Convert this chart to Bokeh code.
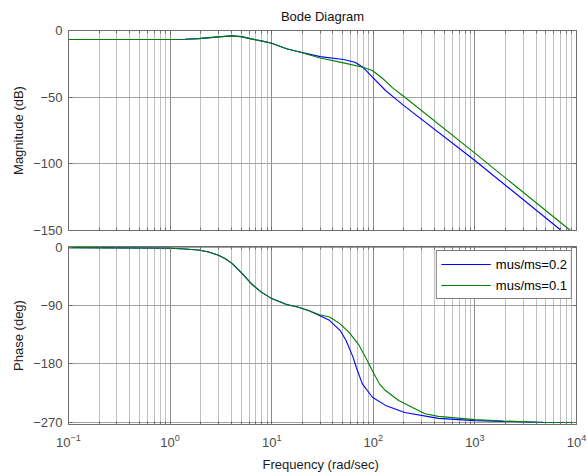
from bokeh.plotting import figure
from bokeh.models import (Range1d, FixedTicker, LinearAxis, Legend,
                          LegendItem, BasicTickFormatter)
from bokeh.layouts import column
from bokeh.embed import file_html
from bokeh.resources import INLINE

FONT = "Liberation Sans"
TICK_COLOR = "#4a4a4a"
AXIS_COLOR = "#6e6e6e"

# ---------------- data ----------------
series_labels = ["mus/ms=0.2", "mus/ms=0.1"]
series_colors = ["#0000ff", "#008000"]

# Magnitude, mus/ms = 0.2
mag_w_02 = [0.1, 1, 1.4, 1.9, 2.8, 4.0, 5.0, 6.3, 7.9, 10, 14, 18, 30, 51, 66,
            79, 98, 132, 166, 200, 1000, 7080, 10000]
mag_db_02 = [-6.8, -6.8, -6.6, -6.1, -5.0, -4.0, -4.6, -6.3, -7.8, -9.6, -13.7,
             -15.7, -19.6, -21.8, -23.8, -27.5, -35.0, -45.0, -51.3, -56.3,
             -97.5, -150.0, -159.0]

# Magnitude, mus/ms = 0.1
mag_w_01 = [0.1, 1, 1.4, 1.9, 2.8, 4.0, 5.0, 6.3, 7.9, 10, 14, 18, 30, 51, 79,
            98, 123, 155, 200, 1000, 8710, 10000]
mag_db_01 = [-6.8, -6.8, -6.6, -6.1, -5.0, -4.0, -4.6, -6.3, -7.8, -9.6, -13.7,
             -15.7, -20.6, -24.3, -27.5, -30.0, -35.8, -43.0, -49.5, -92.0,
             -150.0, -154.0]

# Phase, mus/ms = 0.2
ph_w_02 = [0.1, 1, 1.4, 1.9, 2.4, 3.0, 3.5, 4.1, 5.1, 6.3, 7.9, 10, 14, 18,
           23, 29.5, 37, 47, 54, 63, 68, 78, 98, 132, 204, 437, 1000, 1900,
           4680, 10000]
ph_deg_02 = [-0.3, -1.2, -2.3, -4, -7, -12, -17.5, -25, -40, -56, -69, -79,
             -88, -92, -97.5, -105, -112.6, -128, -143.6, -169, -185, -210.7,
             -231.4, -244, -255, -264, -267.5, -268.6, -270, -270.3]

# Phase, mus/ms = 0.1
ph_w_01 = [0.1, 1, 1.4, 1.9, 2.4, 3.0, 3.5, 4.1, 5.1, 6.3, 7.9, 10, 14, 18,
           23, 29.5, 37.2, 46.8, 57.5, 72.4, 87.1, 97.7, 114.8, 131.8, 177.8,
           257, 323.6, 436.5, 1000, 1905, 3981, 10000]
ph_deg_01 = [-0.3, -1.2, -2.3, -4, -7, -12, -17.5, -25, -40, -56, -69, -79,
             -88, -92, -97.5, -104, -107.5, -117.7, -130.7, -151, -174.6, -190,
             -210.7, -221, -236.5, -249, -257, -261, -266, -268, -270, -270.3]

# ticks
x_major_ticks = [0.1, 1, 10, 100, 1000, 10000]
x_minor_ticks = [m * d for d in x_major_ticks[:-1] for m in range(2, 10)]
mag_ticks = [-150, -100, -50, 0]
phase_ticks = [-270, -180, -90, 0]

title_text = "Bode Diagram"
mag_label = "Magnitude (dB)"
phase_label = "Phase (deg)"
freq_label = "Frequency  (rad/sec)"

# ---------------- styling helpers ----------------
W = 587
BORDER_L = 68
BORDER_R = 11


def x_ticker():
    return FixedTicker(ticks=x_major_ticks, minor_ticks=x_minor_ticks)


def style_axis(ax, labels=True):
    ax.axis_line_color = AXIS_COLOR
    ax.major_tick_line_color = AXIS_COLOR
    ax.minor_tick_line_color = AXIS_COLOR
    ax.major_tick_in = 4
    ax.major_tick_out = 0
    ax.minor_tick_in = 3
    ax.minor_tick_out = 0
    ax.major_label_text_font = FONT
    ax.major_label_text_color = TICK_COLOR
    if labels:
        ax.major_label_text_font_size = "13px"
        ax.major_label_standoff = 6
    else:
        ax.formatter = BasicTickFormatter()
        ax.major_label_text_font_size = "1px"
        ax.major_label_text_alpha = 0.0
        ax.major_label_standoff = 0
    ax.axis_label_text_font = FONT
    ax.axis_label_text_font_size = "13px"
    ax.axis_label_text_font_style = "normal"
    ax.axis_label_text_color = "#1a1a1a"


def style_plot(p, yticks):
    p.background_fill_color = "white"
    p.border_fill_color = "white"
    p.outline_line_color = AXIS_COLOR
    p.xgrid.ticker = x_ticker()
    p.xgrid.grid_line_color = "#8c8c8c"
    p.xgrid.minor_grid_line_color = "#c0c0c0"
    p.ygrid.ticker = FixedTicker(ticks=yticks)
    p.ygrid.grid_line_color = "#a0a0a0"
    for ax in p.below:
        ax.ticker = x_ticker()
    for ax in p.left:
        ax.ticker = FixedTicker(ticks=yticks)
        style_axis(ax, True)
        ax.axis_label_standoff = 4
    top = LinearAxis(ticker=x_ticker())
    style_axis(top, False)
    p.add_layout(top, "above")
    right = LinearAxis(ticker=FixedTicker(ticks=yticks))
    style_axis(right, False)
    p.add_layout(right, "right")


xr = Range1d(0.1, 10000)

# ---------------- magnitude ----------------
p1 = figure(width=W, height=238, x_axis_type="log", x_range=xr,
            y_range=Range1d(-150, 0), output_backend="svg",
            toolbar_location=None, min_border_left=BORDER_L,
            min_border_right=BORDER_R, min_border_top=30, min_border_bottom=8)
style_plot(p1, mag_ticks)
for ax in p1.below:
    style_axis(ax, False)
p1.yaxis[0].axis_label = mag_label
p1.title.text = title_text
p1.title.align = "center"
p1.title.text_font = FONT
p1.title.text_font_size = "13px"
p1.title.text_font_style = "normal"
p1.title.text_color = "#111111"
p1.title.standoff = 13

p1.line(mag_w_02, mag_db_02, line_color=series_colors[0], line_width=1.1)
p1.line(mag_w_01, mag_db_01, line_color=series_colors[1], line_width=1.1)

# ---------------- phase ----------------
p2 = figure(width=W, height=238, x_axis_type="log", x_range=xr,
            y_range=Range1d(-273.5, 1.5), output_backend="svg",
            toolbar_location=None, min_border_left=BORDER_L,
            min_border_right=BORDER_R, min_border_top=8, min_border_bottom=52)
style_plot(p2, phase_ticks)
for ax in p2.below:
    style_axis(ax, True)
    ax.major_label_standoff = 9
    ax.axis_label = freq_label
    ax.axis_label_standoff = 7
p2.yaxis[0].axis_label = phase_label

r_a = p2.line(ph_w_02, ph_deg_02, line_color=series_colors[0], line_width=1.1)
r_b = p2.line(ph_w_01, ph_deg_01, line_color=series_colors[1], line_width=1.1)

legend = Legend(items=[LegendItem(label=series_labels[0], renderers=[r_a]),
                       LegendItem(label=series_labels[1], renderers=[r_b])],
                location="top_right", margin=4, padding=4, spacing=3,
                glyph_width=50, glyph_height=18, label_height=18,
                label_width=70, label_standoff=5,
                label_text_font=FONT, label_text_font_size="13px",
                label_text_color="black",
                border_line_color="black", border_line_width=1,
                background_fill_color="white", background_fill_alpha=1.0)
p2.add_layout(legend)

layout = column(p1, p2, spacing=0)

open("out.html", "w").write(file_html(layout, INLINE))
